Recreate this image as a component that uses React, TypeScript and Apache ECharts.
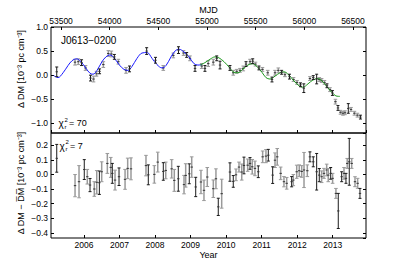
import React, { useEffect, useRef } from "react";
import * as echarts from "echarts";

const MJD_MIN = 53397;
const MJD_MAX = 56634;
const YEAR_MIN = 2005.073;
const YEAR_MAX = 2013.936;

const topMjd = [53456, 53644, 53678, 53711, 53752, 53803, 53834, 53865, 53896, 53935, 53986, 54017, 54048, 54089, 54168, 54204, 54380, 54471, 54551, 54654, 54707, 54759, 54791, 54825, 54877, 54946, 54979, 55013, 55065, 55100, 55134, 55236, 55270, 55305, 55339, 55373, 55401, 55442, 55470, 55498, 55534, 55570, 55624, 55668, 55699, 55733, 55767, 55801, 55848, 55889, 55925, 55961, 55995, 56058, 56092, 56127, 56154, 56178, 56207, 56233, 56264, 56289, 56320, 56346, 56372, 56397, 56418, 56452, 56480, 56515, 56546, 56577];
const topDm = [0.07, 0.27, 0.28, 0.26, 0.15, -0.06, -0.08, 0.03, 0.08, 0.22, 0.45, 0.44, 0.38, 0.28, 0.1, 0.13, 0.5, 0.31, 0.15, 0.41, 0.52, 0.46, 0.42, 0.35, 0.14, 0.19, 0.14, 0.24, 0.27, 0.35, 0.21, 0.15, 0.05, 0.08, 0.1, 0.14, 0.23, 0.28, 0.29, 0.23, 0.15, 0.12, 0.05, -0.09, 0.05, 0.1, 0.06, 0.01, -0.03, -0.09, -0.15, -0.2, -0.27, -0.07, -0.05, -0.08, -0.09, -0.11, -0.15, -0.22, -0.3, -0.37, -0.55, -0.68, -0.77, -0.79, -0.78, -0.69, -0.71, -0.79, -0.83, -0.87];
const topErr = [0.1, 0.06, 0.06, 0.06, 0.05, 0.06, 0.06, 0.05, 0.05, 0.06, 0.06, 0.06, 0.05, 0.05, 0.06, 0.06, 0.07, 0.06, 0.05, 0.05, 0.07, 0.05, 0.05, 0.05, 0.06, 0.05, 0.06, 0.06, 0.06, 0.05, 0.08, 0.05, 0.05, 0.04, 0.04, 0.05, 0.05, 0.05, 0.05, 0.04, 0.04, 0.04, 0.05, 0.05, 0.05, 0.05, 0.04, 0.04, 0.05, 0.04, 0.04, 0.04, 0.09, 0.04, 0.04, 0.1, 0.04, 0.04, 0.04, 0.04, 0.04, 0.05, 0.05, 0.05, 0.04, 0.04, 0.04, 0.1, 0.04, 0.04, 0.04, 0.04];
const topGroup = [1, 0, 0, 1, 0, 1, 0, 0, 1, 0, 0, 0, 1, 0, 0, 1, 1, 1, 0, 0, 1, 0, 1, 0, 1, 0, 1, 0, 0, 1, 1, 1, 0, 0, 0, 0, 1, 0, 1, 0, 1, 0, 0, 1, 0, 0, 1, 0, 1, 0, 0, 1, 1, 0, 1, 1, 0, 0, 0, 1, 0, 1, 0, 1, 0, 0, 0, 1, 0, 0, 0, 1];

const blueMjd = [53425, 53469, 53521, 53572, 53613, 53659, 53705, 53757, 53798, 53829, 53870, 53921, 53962, 54003, 54045, 54096, 54147, 54188, 54229, 54281, 54332, 54384, 54435, 54486, 54538, 54579, 54630, 54671, 54712, 54764, 54815, 54866, 54907, 54949];
const blueDm = [-0.01, -0.05, 0.05, 0.2, 0.3, 0.34, 0.28, 0.14, 0.04, 0.02, 0.1, 0.28, 0.38, 0.42, 0.36, 0.22, 0.12, 0.1, 0.18, 0.35, 0.46, 0.47, 0.35, 0.22, 0.15, 0.2, 0.38, 0.5, 0.54, 0.48, 0.38, 0.24, 0.21, 0.22];
const greenMjd = [54928, 54979, 55031, 55082, 55123, 55175, 55226, 55277, 55318, 55370, 55421, 55462, 55514, 55565, 55606, 55647, 55699, 55750, 55791, 55842, 55894, 55945, 55986, 56038, 56089, 56140, 56182, 56233, 56284, 56325, 56366];
const greenDm = [0.21, 0.26, 0.33, 0.38, 0.36, 0.28, 0.17, 0.06, 0.05, 0.13, 0.21, 0.24, 0.18, 0.06, -0.05, -0.08, -0.02, 0.05, 0.07, 0.0, -0.12, -0.22, -0.25, -0.18, -0.1, -0.07, -0.12, -0.24, -0.36, -0.43, -0.44];

const botMjd = [53456, 53644, 53685, 53739, 53770, 53798, 53842, 53867, 53894, 53918, 53976, 54011, 54027, 54055, 54096, 54158, 54185, 54219, 54373, 54397, 54459, 54494, 54551, 54576, 54637, 54664, 54705, 54764, 54781, 54818, 54843, 54884, 54938, 54969, 55003, 55065, 55092, 55116, 55151, 55236, 55270, 55298, 55329, 55357, 55380, 55418, 55442, 55465, 55493, 55527, 55572, 55606, 55630, 55675, 55699, 55722, 55757, 55791, 55819, 55870, 55887, 55922, 55948, 55973, 55997, 56031, 56058, 56092, 56127, 56154, 56178, 56202, 56230, 56246, 56271, 56291, 56325, 56349, 56384, 56408, 56428, 56441, 56462, 56487, 56521, 56548, 56572];
const botDm = [0.11, -0.077, -0.05, 0.033, -0.016, -0.073, -0.1, -0.054, -0.057, 0.018, 0.075, 0.048, 0.007, -0.039, -0.016, -0.034, 0.041, 0.038, 0.06, -0.003, 0.0, 0.084, 0.02, 0.027, 0.038, -0.041, -0.03, -0.07, -0.007, 0.004, 0.05, -0.086, -0.052, -0.109, -0.018, -0.098, -0.03, -0.222, -0.132, 0.016, -0.048, -0.003, 0.05, 0.016, 0.061, 0.063, 0.075, 0.052, 0.041, 0.018, 0.12, 0.125, 0.131, -0.005, 0.097, 0.12, 0.007, -0.05, -0.061, -0.05, -0.039, 0.018, 0.025, 0.02, 0.03, 0.025, 0.12, 0.086, 0.018, -0.005, -0.016, 0.007, 0.03, -0.005, 0.007, -0.027, -0.13, -0.25, -0.016, 0.007, -0.027, 0.075, 0.086, 0.075, -0.05, -0.061, -0.13];
const botErr = [0.095, 0.076, 0.11, 0.068, 0.05, 0.045, 0.05, 0.08, 0.08, 0.068, 0.068, 0.068, 0.068, 0.068, 0.06, 0.068, 0.07, 0.075, 0.07, 0.068, 0.06, 0.068, 0.06, 0.057, 0.063, 0.075, 0.085, 0.063, 0.08, 0.068, 0.07, 0.066, 0.08, 0.07, 0.065, 0.06, 0.068, 0.059, 0.099, 0.063, 0.04, 0.04, 0.034, 0.055, 0.057, 0.042, 0.04, 0.05, 0.05, 0.04, 0.04, 0.045, 0.04, 0.057, 0.05, 0.057, 0.043, 0.035, 0.04, 0.035, 0.038, 0.045, 0.04, 0.04, 0.12, 0.04, 0.034, 0.034, 0.125, 0.045, 0.04, 0.034, 0.04, 0.045, 0.04, 0.034, 0.034, 0.12, 0.034, 0.04, 0.034, 0.034, 0.16, 0.034, 0.034, 0.034, 0.034];
const botGroup = [1, 0, 0, 1, 0, 1, 0, 0, 1, 0, 0, 0, 1, 0, 1, 0, 0, 0, 0, 1, 0, 0, 1, 0, 0, 0, 1, 0, 0, 1, 0, 1, 0, 0, 0, 0, 0, 1, 0, 1, 1, 0, 0, 0, 1, 0, 1, 0, 0, 1, 0, 0, 1, 1, 0, 0, 0, 0, 0, 1, 0, 0, 0, 0, 0, 0, 1, 1, 1, 1, 0, 0, 0, 0, 1, 0, 0, 1, 1, 0, 1, 0, 1, 0, 0, 0, 1];

const FONT = "'Liberation Sans', Arial, Helvetica, sans-serif";
const BLACK = "#000000";
const DARK = "#1a1a1a";
const GRAY = "#9a9a9a";

function pick(mjd: number[], dm: number[], err: number[], grp: number[], g: number) {
  const out: number[][] = [];
  for (let i = 0; i < mjd.length; i++) if (grp[i] === g) out.push([mjd[i], dm[i], err[i]]);
  return out;
}

function makeRender(width: number, cap: number) {
  return function (_params: any, api: any) {
    const x = api.value(0);
    const y = api.value(1);
    const e = api.value(2);
    const lo = api.coord([x, y - e]);
    const hi = api.coord([x, y + e]);
    const c = api.coord([x, y]);
    const color = api.visual("color");
    const style = { stroke: color, lineWidth: width, fill: null };
    const thin = { stroke: color, lineWidth: 1, fill: null };
    return {
      type: "group",
      children: [
        { type: "line", shape: { x1: lo[0], y1: lo[1], x2: hi[0], y2: hi[1] }, style },
        { type: "line", shape: { x1: lo[0] - cap, y1: lo[1], x2: lo[0] + cap, y2: lo[1] }, style: thin },
        { type: "line", shape: { x1: hi[0] - cap, y1: hi[1], x2: hi[0] + cap, y2: hi[1] }, style: thin },
        { type: "line", shape: { x1: c[0] - 1.2, y1: c[1], x2: c[0] + 1.2, y2: c[1] }, style: { stroke: "#333333", lineWidth: 1 } },
      ],
    };
  };
}

function fmt(v: number) {
  if (Math.abs(v) < 1e-9) return "0.0";
  return v.toFixed(1).replace("-", "\u2212");
}

const tick = { show: true, inside: true, length: 3, lineStyle: { color: BLACK, width: 1 } };
const noLine = { show: false, onZero: false };

export default function App() {
  const ref = useRef<HTMLDivElement>(null);
  useEffect(() => {
    if (!ref.current) return;
    const chart = echarts.init(ref.current, undefined, { renderer: "svg" });
    const label = { fontSize: 8.5, color: BLACK, fontFamily: FONT };
    const option: any = {
      animation: false,
      backgroundColor: "#ffffff",
      textStyle: { fontFamily: FONT },
      grid: [
        { left: 51, top: 27, width: 315, height: 106, show: true, borderColor: BLACK, borderWidth: 1, backgroundColor: "transparent" },
        { left: 51, top: 133, width: 315, height: 105, show: true, borderColor: BLACK, borderWidth: 1, backgroundColor: "transparent" },
      ],
      xAxis: [
        {
          gridIndex: 0, type: "value", position: "top", min: MJD_MIN, max: MJD_MAX,
          minInterval: 500, maxInterval: 500, splitNumber: 6,
          axisLine: noLine, axisTick: tick, splitLine: { show: false },
          axisLabel: { ...label, margin: 2, showMinLabel: false, showMaxLabel: false, formatter: (v: number) => String(Math.round(v)) },
          name: "MJD", nameLocation: "middle", nameGap: 13,
          nameTextStyle: { fontSize: 9, color: BLACK, fontFamily: FONT },
        },
        {
          gridIndex: 0, type: "value", position: "bottom", min: YEAR_MIN, max: YEAR_MAX,
          minInterval: 1, maxInterval: 1, splitNumber: 9,
          axisLine: noLine, axisTick: tick, splitLine: { show: false }, axisLabel: { show: false },
        },
        {
          gridIndex: 1, type: "value", position: "top", min: MJD_MIN, max: MJD_MAX,
          axisLine: noLine, axisTick: { show: false }, axisLabel: { show: false }, splitLine: { show: false },
        },
        {
          gridIndex: 1, type: "value", position: "bottom", min: YEAR_MIN, max: YEAR_MAX,
          minInterval: 1, maxInterval: 1, splitNumber: 9,
          axisLine: noLine, axisTick: tick, splitLine: { show: false },
          axisLabel: { ...label, margin: 2, showMinLabel: false, showMaxLabel: false, formatter: (v: number) => String(Math.round(v)) },
          name: "Year", nameLocation: "middle", nameGap: 12,
          nameTextStyle: { fontSize: 9, color: BLACK, fontFamily: FONT },
        },
      ],
      yAxis: [
        {
          gridIndex: 0, type: "value", position: "left", min: -1.2, max: 1.0,
          minInterval: 0.5, maxInterval: 0.5, splitNumber: 5,
          axisLine: noLine, axisTick: tick, splitLine: { show: false },
          axisLabel: { ...label, margin: 3, showMinLabel: false, formatter: fmt },
        },
        {
          gridIndex: 0, type: "value", position: "right", min: -1.2, max: 1.0,
          minInterval: 0.5, maxInterval: 0.5, splitNumber: 5,
          axisLine: noLine, axisTick: tick, splitLine: { show: false }, axisLabel: { show: false },
        },
        {
          gridIndex: 1, type: "value", position: "left", min: -0.435, max: 0.283,
          minInterval: 0.1, maxInterval: 0.1, splitNumber: 7,
          axisLine: noLine, axisTick: tick, splitLine: { show: false },
          axisLabel: { ...label, margin: 3, showMinLabel: false, showMaxLabel: false, formatter: fmt },
        },
        {
          gridIndex: 1, type: "value", position: "right", min: -0.435, max: 0.283,
          minInterval: 0.1, maxInterval: 0.1, splitNumber: 7,
          axisLine: noLine, axisTick: tick, splitLine: { show: false }, axisLabel: { show: false },
        },
      ],
      series: [
        {
          type: "line", xAxisIndex: 0, yAxisIndex: 0, showSymbol: false, smooth: 0.35,
          data: blueMjd.map((m, i) => [m, blueDm[i]]),
          lineStyle: { color: "#1a1aff", width: 1 }, itemStyle: { color: "#1a1aff" }, z: 3,
        },
        {
          type: "line", xAxisIndex: 0, yAxisIndex: 0, showSymbol: false, smooth: 0.35,
          data: greenMjd.map((m, i) => [m, greenDm[i]]),
          lineStyle: { color: "#1e9a1e", width: 1 }, itemStyle: { color: "#1e9a1e" }, z: 3,
        },
        {
          type: "custom", xAxisIndex: 0, yAxisIndex: 0, renderItem: makeRender(1.5, 1.8), clip: true,
          encode: { x: 0, y: 1 }, itemStyle: { color: GRAY }, z: 2,
          data: pick(topMjd, topDm, topErr, topGroup, 0),
        },
        {
          type: "custom", xAxisIndex: 0, yAxisIndex: 0, renderItem: makeRender(1, 1.5), clip: true,
          encode: { x: 0, y: 1 }, itemStyle: { color: DARK }, z: 4,
          data: pick(topMjd, topDm, topErr, topGroup, 1),
        },
        {
          type: "custom", xAxisIndex: 2, yAxisIndex: 2, renderItem: makeRender(1.5, 1.8), clip: true,
          encode: { x: 0, y: 1 }, itemStyle: { color: GRAY }, z: 2,
          data: pick(botMjd, botDm, botErr, botGroup, 0),
        },
        {
          type: "custom", xAxisIndex: 2, yAxisIndex: 2, renderItem: makeRender(1, 1.5), clip: true,
          encode: { x: 0, y: 1 }, itemStyle: { color: DARK }, z: 4,
          data: pick(botMjd, botDm, botErr, botGroup, 1),
        },
      ],
      graphic: [
        {
          type: "text", x: 61, y: 40, z: 10,
          style: { text: "J0613\u22120200", fontSize: 10, fontFamily: FONT, fill: BLACK, verticalAlign: "middle", textVerticalAlign: "middle" },
        },
        {
          type: "text", x: 21, y: 69, rotation: Math.PI / 2, z: 10,
          style: {
            text: "\u0394 DM [10\u207B\u00B3 pc cm\u207B\u00B3]", fontSize: 9, fontFamily: FONT, fill: BLACK,
            align: "center", textAlign: "center", verticalAlign: "middle", textVerticalAlign: "middle",
          },
        },
        {
          type: "text", x: 21, y: 183, rotation: Math.PI / 2, z: 10,
          style: {
            text: "\u0394 DM \u2212 D\u0305M\u0305 [10\u207B\u00B3 pc cm\u207B\u00B3]", fontSize: 9, fontFamily: FONT, fill: BLACK,
            align: "center", textAlign: "center", verticalAlign: "middle", textVerticalAlign: "middle",
          },
        },
        { type: "text", x: 58.5, y: 123.5, z: 10, style: { text: "\u03C7", fontSize: 10, fontFamily: FONT, fill: BLACK, verticalAlign: "middle", textVerticalAlign: "middle" } },
        { type: "text", x: 64.5, y: 119.5, z: 10, style: { text: "2", fontSize: 6, fontFamily: FONT, fill: BLACK, verticalAlign: "middle", textVerticalAlign: "middle" } },
        { type: "text", x: 64.5, y: 126.5, z: 10, style: { text: "r", fontSize: 6, fontFamily: FONT, fill: BLACK, verticalAlign: "middle", textVerticalAlign: "middle" } },
        { type: "text", x: 69, y: 123, z: 10, style: { text: "= 70", fontSize: 9, fontFamily: FONT, fill: BLACK, verticalAlign: "middle", textVerticalAlign: "middle" } },
        { type: "text", x: 59.5, y: 146, z: 10, style: { text: "\u03C7", fontSize: 10, fontFamily: FONT, fill: BLACK, verticalAlign: "middle", textVerticalAlign: "middle" } },
        { type: "text", x: 65.5, y: 142, z: 10, style: { text: "2", fontSize: 6, fontFamily: FONT, fill: BLACK, verticalAlign: "middle", textVerticalAlign: "middle" } },
        { type: "text", x: 65.5, y: 149, z: 10, style: { text: "r", fontSize: 6, fontFamily: FONT, fill: BLACK, verticalAlign: "middle", textVerticalAlign: "middle" } },
        { type: "text", x: 70, y: 145.5, z: 10, style: { text: "= 7", fontSize: 9, fontFamily: FONT, fill: BLACK, verticalAlign: "middle", textVerticalAlign: "middle" } },
      ],
    };
    chart.setOption(option);
    return () => chart.dispose();
  }, []);
  return (
    <div
      ref={ref}
      style={{ position: "fixed", left: 0, top: 0, width: 407, height: 265, background: "#ffffff" }}
    />
  );
}
